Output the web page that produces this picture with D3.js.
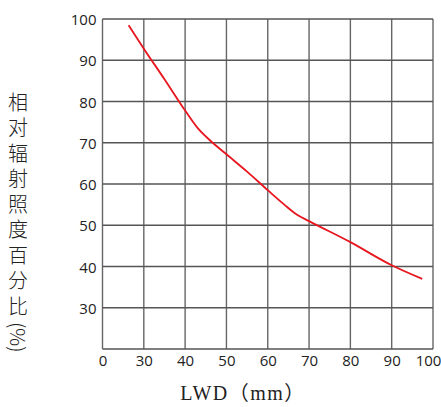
<!DOCTYPE html>
<html>
<head>
<meta charset="utf-8">
<script src="https://cdn.jsdelivr.net/npm/d3@7"></script>
<style>
  body { margin: 0; background: #fff; }
  svg { display: block; }
</style>
</head>
<body>
<svg id="chart"></svg>
<script>
// 曲线数据 (LWD mm -> 相对辐射照度 %)
const lwd = [26.3, 30, 35, 40, 43, 46, 50, 55, 60, 64, 67, 70, 80, 90, 97.4];
const irradiance = [98.5, 92.8, 85.4, 77.8, 73.6, 70.6, 67.2, 63.0, 58.5, 55.0, 52.6, 51.0, 45.9, 40.3, 37.0];

// 刻度
const xTicks = [20, 30, 40, 50, 60, 70, 80, 90, 100];
const xTickLabels = ["0", "30", "40", "50", "60", "70", "80", "90", "100"];
const yTicks = [20, 30, 40, 50, 60, 70, 80, 90, 100];
const yTickLabels = ["", "30", "40", "50", "60", "70", "80", "90", "100"];

const yTitle = "相对辐射照度百分比";
const yUnit = "(%)";
const xTitle = "LWD（mm）";

const W = 441, H = 407;
const margin = { top: 19, right: 8, bottom: 58, left: 102.5 };
const width = W - margin.left - margin.right;
const height = H - margin.top - margin.bottom;

const svg = d3.select("#chart").attr("width", W).attr("height", H);
const g = svg.append("g").attr("transform", `translate(${margin.left},${margin.top})`);

const x = d3.scaleLinear().domain([20, 100]).range([0, width]);
const y = d3.scaleLinear().domain([20, 100]).range([height, 0]);

// 网格
g.append("g")
  .selectAll("line")
  .data(xTicks)
  .join("line")
  .attr("x1", d => x(d)).attr("x2", d => x(d))
  .attr("y1", 0).attr("y2", height)
  .attr("stroke", "#666").attr("stroke-width", 1.4);

g.append("g")
  .selectAll("line")
  .data(yTicks)
  .join("line")
  .attr("x1", 0).attr("x2", width)
  .attr("y1", d => y(d)).attr("y2", d => y(d))
  .attr("stroke", "#555").attr("stroke-width", 1.4);

// X 轴
const xAxis = g.append("g")
  .attr("transform", `translate(0,${height})`)
  .call(d3.axisBottom(x).tickValues(xTicks).tickSize(0).tickPadding(6)
    .tickFormat((d, i) => xTickLabels[i]));
xAxis.select(".domain").remove();
xAxis.selectAll("text")
  .attr("font-family", "'Open Sans', sans-serif")
  .attr("font-size", 15)
  .attr("fill", "#222")
  .attr("dx", (d, i) => i === xTicks.length - 1 ? -5 : 0);

// Y 轴
const yAxis = g.append("g")
  .call(d3.axisLeft(y).tickValues(yTicks).tickSize(0).tickPadding(6)
    .tickFormat((d, i) => yTickLabels[i]));
yAxis.select(".domain").remove();
yAxis.selectAll("text")
  .attr("font-family", "'Open Sans', sans-serif")
  .attr("font-size", 15)
  .attr("fill", "#222")
  .attr("dy", "0.38em");

// 曲线
const line = d3.line()
  .x((d, i) => x(lwd[i]))
  .y(d => y(d))
  .curve(d3.curveMonotoneX);

g.append("path")
  .datum(irradiance)
  .attr("d", line)
  .attr("fill", "none")
  .attr("stroke", "#e8161e")
  .attr("stroke-width", 1.8);

// Y 轴标题 (竖排)
const yt = svg.append("text")
  .attr("x", 18)
  .attr("y", 92)
  .attr("style", "writing-mode: vertical-rl;")
  .attr("font-family", "'Noto Sans CJK SC', sans-serif")
  .attr("font-weight", 300)
  .attr("font-size", 20)
  .attr("fill", "#222");
yt.append("tspan").attr("style", "letter-spacing: 5.5px;").text(yTitle);
yt.append("tspan").attr("style", "letter-spacing: 0px;").text(yUnit);

// X 轴标题
svg.append("text")
  .attr("x", 243)
  .attr("y", 400)
  .attr("text-anchor", "middle")
  .attr("font-family", "'Liberation Serif', 'Noto Sans CJK SC', serif")
  .attr("font-size", 20)
  .attr("letter-spacing", 1.5)
  .attr("fill", "#222")
  .text(xTitle);
</script>
</body>
</html>
